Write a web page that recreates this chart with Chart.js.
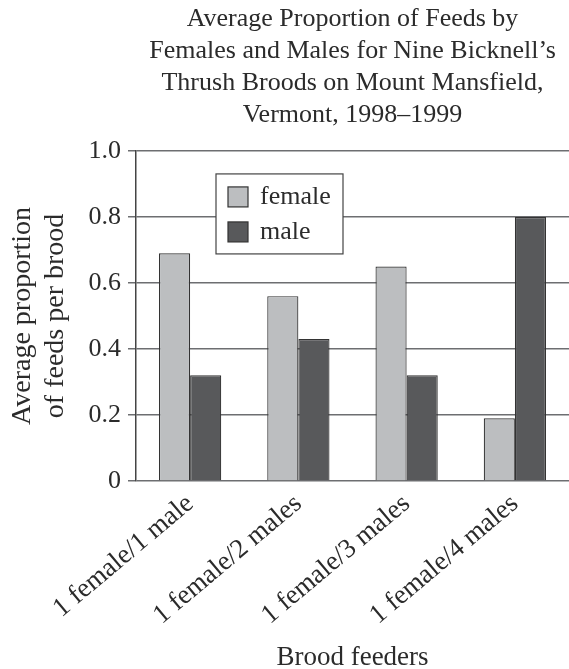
<!DOCTYPE html>
<html>
<head>
<meta charset="utf-8">
<title>Bicknell's Thrush feeds</title>
<script src="https://cdn.jsdelivr.net/npm/chart.js@4.4.1/dist/chart.umd.min.js"></script>
<style>
  html, body { margin: 0; padding: 0; background: #fff; }
  #wrap { width: 569px; height: 669px; }
</style>
</head>
<body>
<div id="wrap"><canvas id="chart" width="569" height="669"></canvas></div>
<script>
// data
const categories = ['1 female/1 male', '1 female/2 males', '1 female/3 males', '1 female/4 males'];
const femaleValues = [0.69, 0.56, 0.65, 0.19];
const maleValues = [0.32, 0.43, 0.32, 0.80];
const yTickLabels = ['0', '0.2', '0.4', '0.6', '0.8', '1.0'];
const titleLines = [
  'Average Proportion of Feeds by',
  'Females and Males for Nine Bicknell\u2019s',
  'Thrush Broods on Mount Mansfield,',
  'Vermont, 1998\u20131999'
];

const serif = "'Liberation Serif', 'Times New Roman', serif";
const ink = '#2b2b2b';
Chart.defaults.font.family = serif;
Chart.defaults.color = ink;

// legend drawn inside the plot, in a white box
const boxLegend = {
  id: 'boxLegend',
  afterDatasetsDraw(chart) {
    const { ctx, chartArea } = chart;
    const x = chartArea.left + 80, y = chartArea.top + 23, w = 127, h = 80;
    ctx.save();
    ctx.fillStyle = '#fff';
    ctx.fillRect(x, y, w, h);
    ctx.strokeStyle = '#444';
    ctx.lineWidth = 1.2;
    ctx.strokeRect(x, y, w, h);
    ctx.font = '26px ' + serif;
    ctx.textBaseline = 'middle';
    chart.data.datasets.forEach((ds, i) => {
      const cy = y + 23 + i * 35;
      ctx.fillStyle = ds.backgroundColor;
      ctx.fillRect(x + 12, cy - 10, 20, 20);
      ctx.strokeStyle = '#333';
      ctx.strokeRect(x + 12, cy - 10, 20, 20);
      ctx.fillStyle = ink;
      ctx.fillText(ds.label, x + 44, cy);
    });
    ctx.restore();
  }
};

new Chart(document.getElementById('chart'), {
  type: 'bar',
  data: {
    labels: categories,
    datasets: [
      { label: 'female', data: femaleValues, backgroundColor: '#bcbec0', borderColor: '#333', borderWidth: 1.2 },
      { label: 'male', data: maleValues, backgroundColor: '#58595b', borderColor: '#333', borderWidth: 1.2 }
    ]
  },
  options: {
    responsive: false,
    animation: false,
    layout: { padding: 0 },
    categoryPercentage: 0.575,
    barPercentage: 1.0,
    plugins: {
      legend: { display: false },
      tooltip: { enabled: false },
      title: {
        display: true,
        fullSize: false,
        text: titleLines,
        color: ink,
        font: { size: 26, weight: 'normal', lineHeight: 1.23 },
        padding: { top: 3, bottom: 20 }
      }
    },
    scales: {
      x: {
        grid: { display: false, drawTicks: false },
        border: { display: false },
        ticks: {
          color: ink,
          font: { size: 27 },
          minRotation: 40,
          maxRotation: 40,
          padding: 7
        },
        title: {
          display: true,
          text: 'Brood feeders',
          color: ink,
          font: { size: 27, lineHeight: 0.8 },
          padding: 0
        },
        afterFit(scale) { scale.height = 188; }
      },
      y: {
        min: 0,
        max: 1,
        ticks: {
          stepSize: 0.2,
          color: ink,
          font: { size: 26 },
          padding: 7,
          callback: (v, i) => yTickLabels[i]
        },
        grid: { color: '#6d6e71', lineWidth: 1.5, tickLength: 8 },
        border: { color: '#444', width: 1.5 },
        title: {
          display: true,
          text: ['Average proportion', 'of feeds per brood'],
          color: ink,
          font: { size: 28, lineHeight: 1.18 },
          padding: { top: 6 }
        },
        afterFit(scale) { scale.width = 136; }
      }
    }
  },
  plugins: [boxLegend]
});
</script>
</body>
</html>
